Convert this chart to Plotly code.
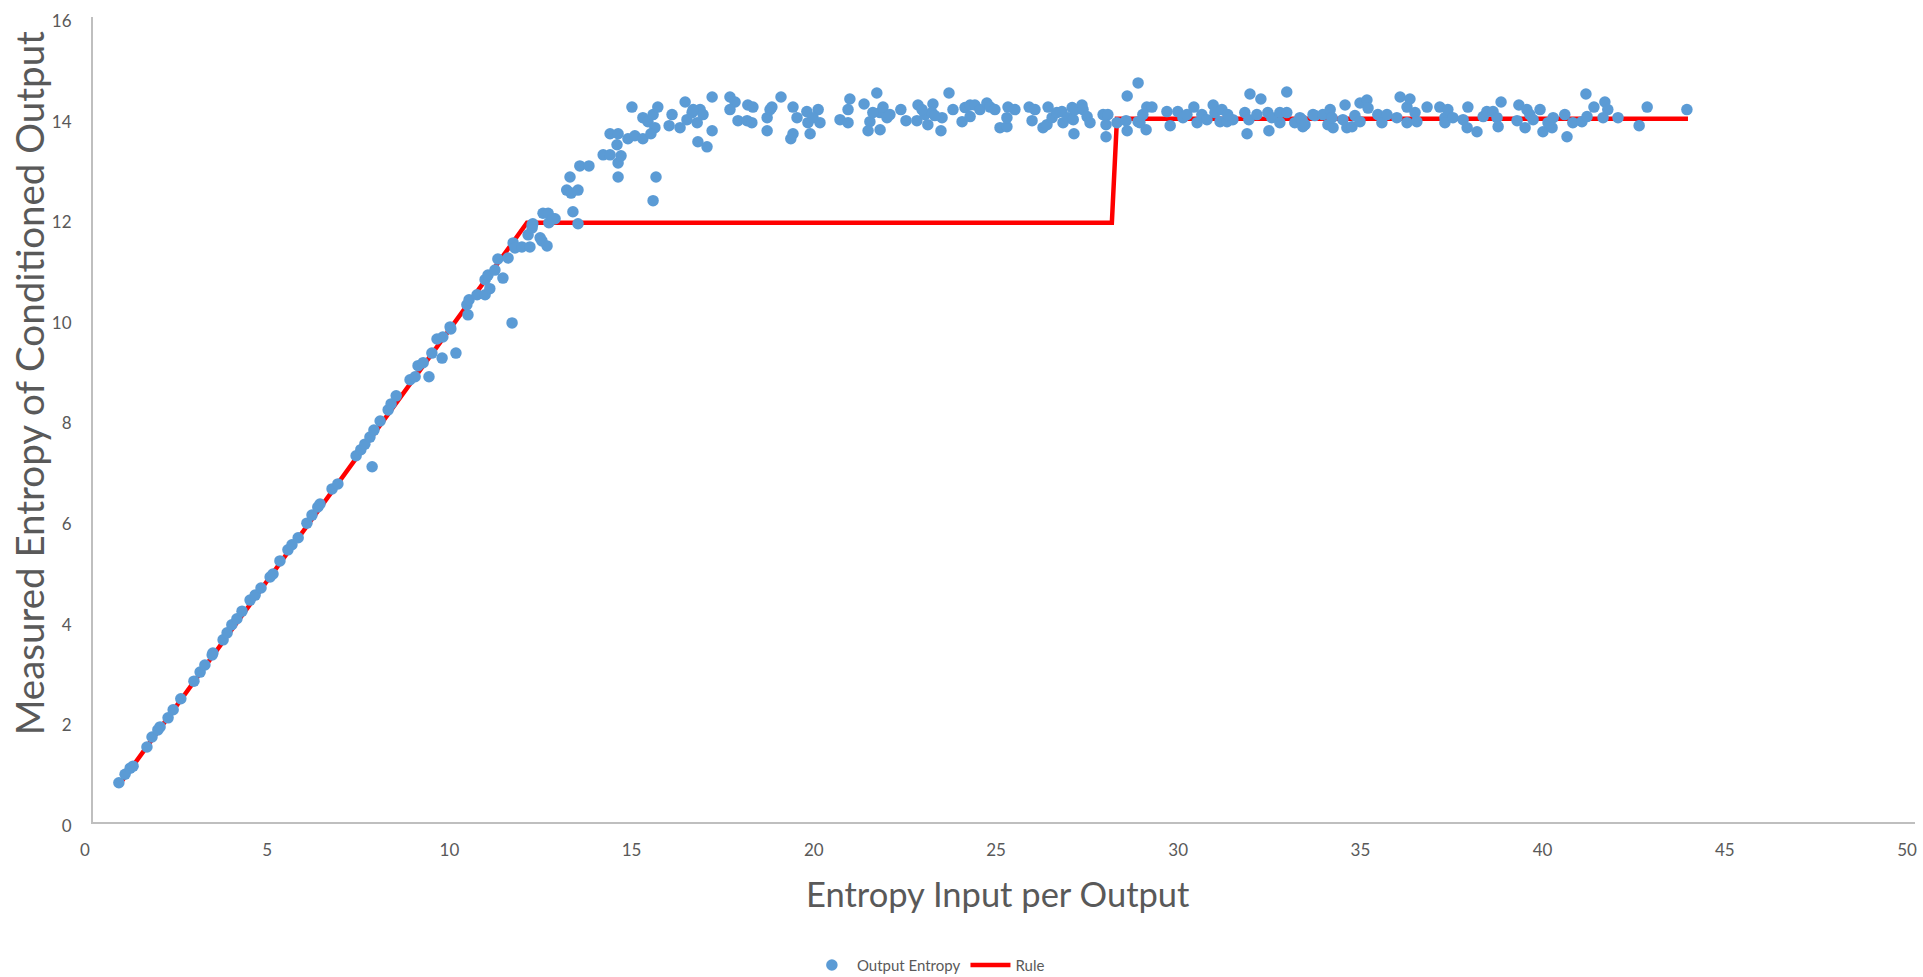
import plotly.graph_objects as go

# ---- data: Output Entropy (scatter) ----
out_x = [0.71, 0.88, 1.02, 1.10, 1.48, 1.62, 1.78, 1.84, 2.06, 2.20, 2.41, 2.77, 2.94, 3.07, 3.27, 3.29,
         3.57, 3.68, 3.81, 3.95, 4.09, 4.31, 4.45, 4.61, 4.86, 4.94, 5.13, 5.35, 5.46, 5.63, 5.87, 6.01,
         6.17, 6.23, 6.56, 6.72, 7.22, 7.35, 7.46, 7.60, 7.71, 7.66, 7.88, 8.10, 8.18, 8.32,
         8.70, 8.84, 9.22, 8.92, 9.06, 9.30, 9.58, 9.96, 9.44, 9.60, 9.80, 9.82, 10.29, 10.26, 10.32,
         10.54, 10.76, 10.89, 10.76, 10.84, 11.03, 11.25, 11.50, 11.11, 11.39, 11.53, 11.58, 11.77,
         11.99, 11.94, 12.05, 12.07, 12.32, 12.46, 12.35, 12.49, 12.68, 12.51, 12.62, 12.05, 12.27,
         13.17, 13.31, 13.09, 13.00, 13.12, 13.31, 13.36, 13.61, 14.00, 14.19, 14.41, 14.49, 14.38,
         14.19, 14.41, 14.41, 14.79, 14.68, 14.87, 15.09, 15.09, 15.23, 15.37, 15.50, 15.42, 15.31,
         15.45, 15.37, 15.81, 15.89, 16.11, 16.25, 16.30, 16.44, 16.58, 16.66, 16.74, 16.47, 16.60,
         16.85, 16.99, 16.99, 17.48, 17.62, 17.48, 17.70, 17.95, 17.97, 18.11, 18.08, 18.50, 18.58,
         18.63, 18.50, 18.88, 19.21, 19.32, 19.15, 19.21, 19.59, 19.62, 19.68, 19.90, 19.95, 19.76,
         20.50, 20.72, 20.72, 20.77, 21.16, 21.32, 21.27, 21.51, 21.60, 21.68, 21.79, 21.87, 21.60,
         21.40, 22.17, 22.31, 22.61, 22.64, 22.83, 22.91, 23.05, 23.02, 23.30, 23.27, 23.10, 22.75,
         23.49, 23.60, 23.85, 23.93, 24.07, 24.07, 24.20, 24.34, 24.53, 24.62, 24.75, 24.89, 25.08,
         25.11, 25.08, 25.30, 25.69, 25.85, 25.77, 26.07, 26.18, 26.21, 26.32, 26.45, 26.59, 26.62,
         26.76, 26.87, 26.90, 26.95, 27.14, 27.17, 27.28, 27.36, 26.92, 27.72, 27.85, 27.80, 27.80,
         28.10, 28.35, 28.38, 28.68, 28.38, 28.68, 28.81, 28.92, 29.06, 28.90, 28.73, 29.47, 29.56,
         29.77, 29.91, 30.02, 30.21, 30.30, 30.43, 30.57, 30.74, 30.79, 30.93, 30.98, 31.12, 31.28,
         31.14, 31.61, 31.75, 31.67, 31.72, 31.94, 32.05, 32.24, 32.27, 32.35, 32.57, 32.57, 32.76,
         32.76, 32.98, 33.12, 33.20, 33.48, 33.18, 33.26, 33.53, 33.75, 33.95, 33.89, 34.03, 34.00,
         34.36, 34.30, 34.41, 34.55, 34.63, 34.77, 34.77, 34.96, 34.99, 35.26, 35.37, 35.51, 35.78,
         35.87, 36.06, 36.14, 36.06, 36.28, 36.33, 36.61, 36.96, 37.10, 37.18, 37.10, 37.32, 37.60,
         37.73, 37.71, 37.98, 38.15, 38.25, 38.42, 38.53, 38.56, 38.64, 39.08, 39.13, 39.30, 39.35,
         39.43, 39.52, 39.71, 39.79, 39.93, 40.07, 40.04, 40.39, 40.45, 40.61, 40.86, 40.97, 41.00,
         41.19, 41.49, 41.57, 41.44, 41.85, 42.43, 42.65, 43.74]
out_y = [0.78, 0.95, 1.07, 1.11, 1.49, 1.69, 1.83, 1.89, 2.07, 2.23, 2.45, 2.80, 2.98, 3.12, 3.32, 3.36,
         3.62, 3.76, 3.92, 4.04, 4.19, 4.41, 4.51, 4.65, 4.87, 4.93, 5.19, 5.41, 5.51, 5.65, 5.94, 6.10,
         6.26, 6.32, 6.62, 6.72, 7.28, 7.40, 7.51, 7.65, 7.79, 7.06, 7.97, 8.19, 8.31, 8.47,
         8.79, 8.85, 8.85, 9.07, 9.13, 9.32, 9.22, 9.32, 9.60, 9.64, 9.84, 9.80, 10.08, 10.28, 10.38,
         10.48, 10.48, 10.60, 10.78, 10.87, 10.97, 10.81, 9.92, 11.19, 11.21, 11.51, 11.41, 11.43,
         11.43, 11.67, 11.81, 11.89, 11.55, 11.45, 12.10, 12.10, 11.99, 11.91, 11.99, 11.87, 11.61,
         12.13, 11.89, 12.82, 12.56, 12.50, 12.56, 13.04, 13.04, 13.26, 13.26, 13.10, 13.24, 13.46,
         13.68, 13.68, 12.82, 14.21, 13.58, 13.64, 13.58, 14.00, 13.92, 14.06, 14.21, 13.80, 13.68,
         12.82, 12.35, 13.84, 14.06, 13.80, 14.31, 13.96, 14.10, 13.90, 14.16, 14.06, 14.16, 13.52,
         13.42, 14.41, 13.74, 14.41, 14.31, 14.16, 13.94, 13.94, 14.25, 14.21, 13.90, 14.00, 14.16,
         14.21, 13.74, 14.41, 14.21, 14.00, 13.58, 13.68, 14.12, 13.90, 13.68, 14.16, 13.90, 14.00,
         13.96, 14.16, 13.90, 14.37, 14.27, 13.92, 13.74, 14.49, 14.10, 14.21, 14.00, 14.06, 13.76,
         14.10, 14.16, 13.94, 13.94, 14.25, 14.06, 13.86, 14.27, 14.10, 14.00, 13.74, 14.04, 14.16,
         14.49, 14.16, 13.92, 14.20, 14.25, 14.02, 14.25, 14.16, 14.29, 14.21, 14.16, 13.80, 13.82,
         14.21, 14.00, 14.16, 14.21, 14.16, 13.94, 13.80, 13.86, 14.21, 14.00, 14.10, 14.12, 13.90,
         14.00, 14.20, 13.96, 14.16, 14.25, 14.16, 14.02, 13.90, 13.68, 14.06, 14.06, 13.86, 13.62,
         13.90, 13.94, 14.43, 14.69, 13.74, 13.92, 14.06, 14.21, 14.21, 13.76, 13.90, 14.12, 13.84,
         14.12, 14.00, 14.06, 14.21, 13.90, 14.06, 13.96, 14.25, 14.10, 13.92, 14.16, 13.92, 13.96,
         14.06, 14.10, 14.47, 13.68, 13.96, 14.06, 14.37, 14.10, 13.74, 14.00, 14.10, 13.90, 14.51,
         14.10, 13.90, 14.00, 13.82, 14.06, 13.96, 13.86, 14.04, 14.06, 14.16, 13.86, 13.80, 14.00,
         14.25, 13.96, 13.80, 13.82, 14.04, 14.29, 13.92, 14.35, 14.19, 14.06, 13.90, 14.06, 14.00,
         14.41, 14.21, 14.37, 13.90, 14.10, 13.92, 14.21, 14.21, 14.00, 14.16, 13.90, 14.00, 13.96,
         14.21, 13.80, 13.72, 14.02, 14.12, 14.12, 14.00, 13.82, 14.31, 13.94, 14.25, 13.80, 14.16,
         14.06, 13.96, 14.16, 13.72, 13.90, 14.00, 13.80, 14.06, 13.62, 13.90, 13.92, 14.47, 14.02,
         14.21, 14.31, 14.16, 14.00, 14.00, 13.84, 14.21, 14.16]

# ---- data: Rule (line) ----
rule_x = [0.69, 11.91, 27.96, 28.10, 43.77]
rule_y = [0.71, 11.91, 11.91, 13.98, 13.98]

# ---- tick labels ----
x_ticks = [0, 5, 10, 15, 20, 25, 30, 35, 40, 45, 50]
y_ticks = [0, 2, 4, 6, 8, 10, 12, 14, 16]

BLUE = "#5B9BD5"
RED = "#FF0000"
GREY_TXT = "#595959"
AXIS_LINE = "#BFBFBF"
FONT = "Lato, 'Open Sans', sans-serif"

fig = go.Figure()
fig.add_trace(go.Scatter(
    x=rule_x, y=rule_y, mode="lines", name="Rule",
    line=dict(color=RED, width=4.5), legendrank=2))
fig.add_trace(go.Scatter(
    x=out_x, y=out_y, mode="markers", name="Output Entropy",
    marker=dict(color=BLUE, size=11.5, line=dict(width=0)), legendrank=1))

axis_common = dict(showgrid=False, zeroline=False, showline=True,
                   linecolor=AXIS_LINE, linewidth=2, ticks="", automargin=False,
                   tickfont=dict(family=FONT, size=17, color=GREY_TXT))

fig.update_layout(
    width=1923, height=977,
    margin=dict(l=93, r=8, t=17, b=155, autoexpand=False),
    paper_bgcolor="white", plot_bgcolor="white",
    showlegend=True,
    legend=dict(orientation="h", x=0.4585, xanchor="center", y=-0.178, yanchor="middle",
                font=dict(family=FONT, size=15, color=GREY_TXT), itemwidth=40,
                traceorder="normal"),
    xaxis=dict(range=[0, 50], tickvals=x_ticks, ticklabelstandoff=12,
               ticklabelshift=-8, **axis_common),
    yaxis=dict(range=[0, 16], tickvals=y_ticks, ticklabelstandoff=16,
               ticklabelshift=4, **axis_common),
    annotations=[
        dict(text="Entropy Input per Output", xref="paper", yref="paper",
             x=0.4967, y=-0.0882, xanchor="center", yanchor="middle", showarrow=False,
             font=dict(family=FONT, size=34.5, color=GREY_TXT)),
        dict(text="Measured Entropy of Conditioned Output", xref="paper", yref="paper",
             x=-0.0351, y=0.545, xanchor="center", yanchor="middle", showarrow=False,
             textangle=-90, font=dict(family=FONT, size=38.5, color=GREY_TXT)),
    ],
)

fig.write_html("out.html")
